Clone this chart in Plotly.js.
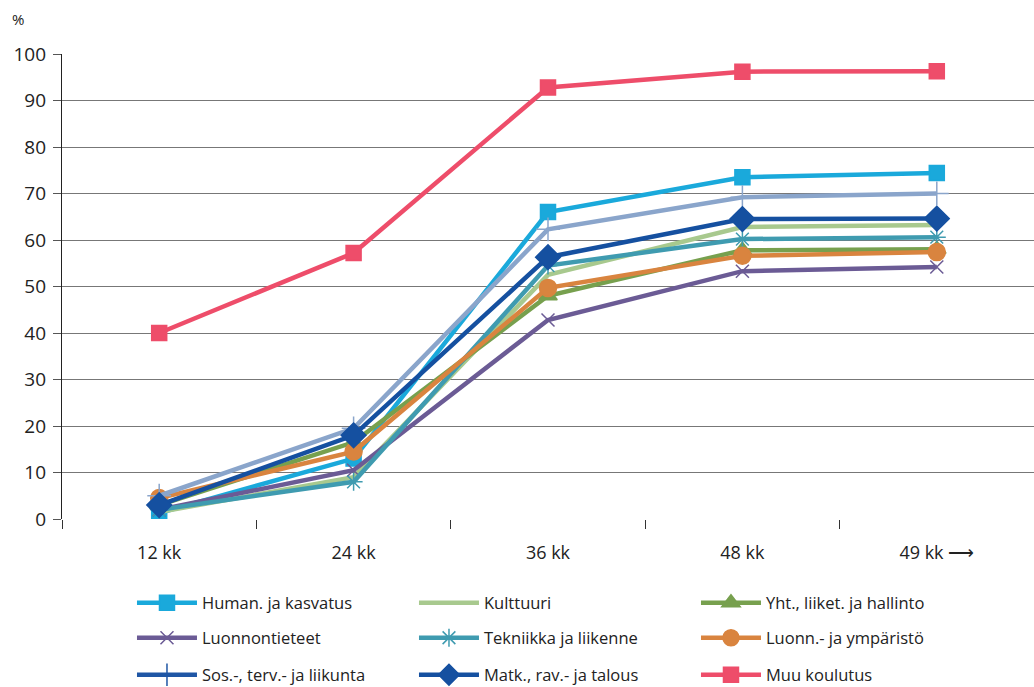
<!DOCTYPE html>
<html><head><meta charset="utf-8">
<script src="https://cdn.plot.ly/plotly-3.0.1.min.js"></script>
<style>body{margin:0}#c{width:1034px;height:687px}</style>
</head><body><div id="c"></div>
<script>
const categories = ["12 kk","24 kk","36 kk","48 kk","49 kk ⟶"];
const human = [1.3, 13, 66, 73.5, 74.4];
const kulttuuri = [1.5, 9, 52.5, 62.8, 63.2];
const yht = [3, 16.5, 48, 57.8, 58];
const luonnontieteet = [2, 10.5, 42.8, 53.3, 54.2];
const tekniikka = [2, 8, 54.5, 60.2, 60.6];
const luonn = [4.5, 14.5, 49.7, 56.6, 57.4];
const sos = [5, 19.5, 62.3, 69.2, 70];
const matk = [3, 18, 56.3, 64.5, 64.6];
const muu = [40, 57.2, 92.8, 96.2, 96.3];
const names = ["Human. ja kasvatus","Kulttuuri","Yht., liiket. ja hallinto","Luonnontieteet","Tekniikka ja liikenne","Luonn.- ja ympäristö","Sos.-, terv.- ja liikunta","Matk., rav.- ja talous","Muu koulutus"];

function tr(y, name, color, symbol, size, legend, extra){
  const t = {x: categories, y: y, name: name, type:'scatter', mode: symbol ? 'lines+markers':'lines',
    line:{color: color, width: 4.5}, legend: legend,
    marker:{symbol: symbol||'circle', size: size||14, color: color, line:{color: color, width: 1.5}}};
  return Object.assign(t, extra||{});
}
const traces = [
  tr(human, names[0], '#1aa9db', 'square', 15, 'legend'),
  tr(kulttuuri, names[1], '#a8c98e', null, 0, 'legend'),
  tr(yht, names[2], '#77a04e', 'triangle-up', 16, 'legend'),
  tr(luonnontieteet, names[3], '#6b5b95', 'x-thin-open', 13, 'legend2'),
  tr(tekniikka, names[4], '#3f9bb0', 'asterisk-open', 15, 'legend2'),
  tr(luonn, names[5], '#d9843f', 'circle', 17, 'legend2'),
  tr(sos, names[6], '#8aa5cb', 'cross-thin-open', 17, 'legend3', {showlegend:false}),
  tr(matk, names[7], '#1550a0', 'diamond', 19, 'legend3'),
  tr(muu, names[8], '#ee4d6a', 'square', 15, 'legend3'),
];
const sosLegend = tr([null,null,null,null,null], names[6], '#1f56a5', 'cross-thin-open', 17, 'legend3', {showlegend:true});
traces.splice(7, 0, sosLegend);

const legBase = {orientation:'h', x:0.072, xanchor:'left', yanchor:'middle', yref:'container', entrywidth:207, entrywidthmode:'pixels',
  itemwidth:60, font:{family:'Open Sans, sans-serif', size:16.5, color:'#222'}, bgcolor:'rgba(0,0,0,0)', traceorder:'normal'};
const layout = {
  width:1034, height:687,
  margin:{l:62, r:0, t:54, b:168},
  paper_bgcolor:'#fff', plot_bgcolor:'#fff',
  font:{family:'Open Sans, sans-serif', size:17, color:'#222'},
  xaxis:{type:'category', range:[-0.5,4.5], autorange:false, tickson:'boundaries', ticks:'outside', ticklen:9, tickcolor:'#333',
    showgrid:false, showline:false, zeroline:false, ticklabelstandoff:21,
    tickfont:{size:18}},
  yaxis:{range:[0,100], dtick:10, ticks:'outside', ticklen:8, tickcolor:'#555', showline:true, linecolor:'#222', linewidth:1.3,
    gridcolor:'#777', gridwidth:1.2, zeroline:false, tickfont:{size:19}, ticklabelstandoff:3},
  legend: Object.assign({}, legBase, {y:0.1223}),
  legend2: Object.assign({}, legBase, {y:0.0713}),
  legend3: Object.assign({}, legBase, {y:0.0175}),
  showlegend:true,
  annotations:[{text:'%', xref:'paper', yref:'paper', x:-0.045, y:1.10, showarrow:false, xanchor:'center', font:{size:15}}]
};
Plotly.newPlot('c', traces, layout, {displayModeBar:false});
</script></body></html>
